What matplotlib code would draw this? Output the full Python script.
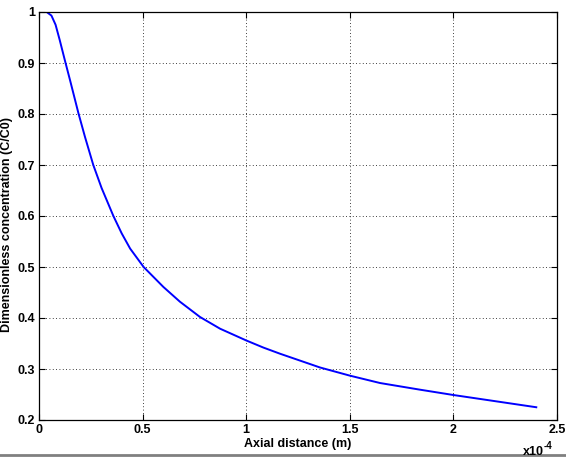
import matplotlib
matplotlib.use("Agg")
import matplotlib.pyplot as plt
from matplotlib.ticker import FuncFormatter

# Values (x in units of 1e-4 m)
x_e4 = [0.0, 0.037, 0.06, 0.08, 0.10, 0.125, 0.15, 0.175, 0.19, 0.222,
        0.262, 0.302, 0.359, 0.399, 0.44, 0.505, 0.600, 0.680, 0.777, 0.874,
        1.0, 1.083, 1.163, 1.356, 1.50, 1.646, 1.838, 2.0, 2.2, 2.4]
conc = [1.0, 1.0, 0.993, 0.975, 0.945, 0.905, 0.866, 0.826, 0.802, 0.755,
        0.70, 0.655, 0.600, 0.566, 0.536, 0.500, 0.461, 0.432, 0.402, 0.379,
        0.356, 0.342, 0.330, 0.303, 0.287, 0.2725, 0.2595, 0.249, 0.237, 0.225]
x_m = [v * 1e-4 for v in x_e4]

x_ticks = [0, 0.5e-4, 1e-4, 1.5e-4, 2e-4, 2.5e-4]
y_ticks = [0.2, 0.3, 0.4, 0.5, 0.6, 0.7, 0.8, 0.9, 1.0]

plt.rcParams["font.family"] = ["Liberation Sans", "DejaVu Sans"]

fig = plt.figure(figsize=(5.66, 4.58), dpi=100)
ax = fig.add_axes([39 / 566, 38 / 458, 518 / 566, 408 / 458])

ax.plot(x_m, conc, color="#0000ff", linewidth=1.4)

ax.set_xlim(0, 2.5e-4)
ax.set_ylim(0.2, 1.0)
ax.set_xticks(x_ticks)
ax.set_yticks(y_ticks)
ax.xaxis.set_major_formatter(FuncFormatter(lambda v, p: "%g" % round(v / 1e-4, 3)))
ax.yaxis.set_major_formatter(FuncFormatter(lambda v, p: "%g" % round(v, 3)))
ax.tick_params(direction="in", length=4, width=0.8, top=True, right=True,
               labelsize=9, pad=3)
for lab in ax.get_xticklabels() + ax.get_yticklabels():
    lab.set_fontweight("bold")

ax.grid(True, color="black", linestyle=(0, (1, 3)), linewidth=0.6)
for s in ax.spines.values():
    s.set_linewidth(0.9)

ax.set_xlabel("Axial distance (m)", fontsize=9, fontweight="bold", labelpad=1)
ax.set_ylabel("Dimensionless concentration (C/C0)", fontsize=9,
              fontweight="bold",
              family=["Liberation Sans Narrow", "Liberation Sans", "DejaVu Sans"])
ax.yaxis.set_label_coords(-0.05, 0.48)

fig.text(523 / 566, 1 - 452 / 458, "x10", fontsize=9, fontweight="bold",
         ha="left", va="center")
fig.text(544 / 566, 1 - 446 / 458, "-4", fontsize=7, fontweight="bold",
         ha="left", va="center")

# thin frame line at the bottom edge
fig.add_artist(plt.Line2D([0, 1], [3 / 458, 3 / 458], color="#808080",
                          linewidth=2, transform=fig.transFigure))

fig.savefig("out.png", dpi=100)
